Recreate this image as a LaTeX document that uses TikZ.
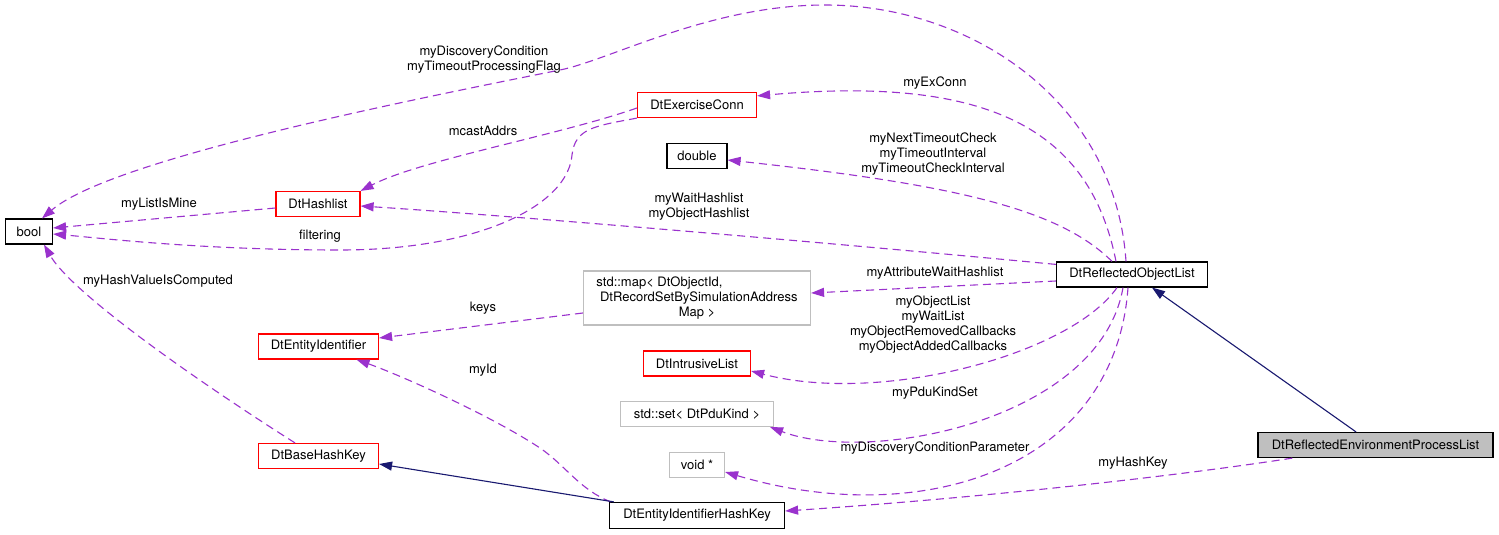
\documentclass[tikz,border=0pt]{standalone}
\usepackage{fontspec}
\setmainfont{TeX Gyre Heros}
\usetikzlibrary{arrows.meta,calc}
\definecolor{edgepurple}{HTML}{9A32CD}
\definecolor{navyblue}{HTML}{191970}
\definecolor{boxgray}{HTML}{BFBFBF}
\begin{document}
\begin{tikzpicture}[x=1pt,y=-1pt,
  lbl/.style={font=\fontsize{13}{15}\selectfont, inner sep=0pt, align=center},
  cls/.style={draw=black, line width=1.2pt, fill=white, minimum height=25pt, inner sep=0pt, font=\fontsize{13}{15}\selectfont},
  redcls/.style={cls, draw=red},
  graycls/.style={cls, draw=boxgray},
  member/.style={draw=edgepurple, line width=1.1pt, dash pattern=on 8pt off 5pt, -{Triangle[length=13pt,width=9pt]}},
  inherit/.style={draw=navyblue, line width=1.1pt, -{Triangle[length=13pt,width=9pt]}}]
\fill[white] (0,0) rectangle (1499,535);
\useasboundingbox (0,0) rectangle (1499,535);

% nodes
\node[cls, minimum width=47pt] (nBool) at (29,231.5) {bool};
\node[redcls, minimum width=84pt] (nHash) at (318,204) {DtHashlist};
\node[redcls, minimum width=119pt] (nExConn) at (697,105) {DtExerciseConn};
\node[cls, minimum width=60pt] (nDouble) at (697,156) {double};
\node[graycls, minimum width=227pt, minimum height=54pt] (nMap) at (697,298)
  {\begin{tabular}{@{}l@{}}std::map< DtObjectId,\\\ DtRecordSetBySimulationAddress\\\multicolumn{1}{@{}c@{}}{Map >}\end{tabular}};
\node[redcls, minimum width=120pt] (nEntId) at (318.5,346.5) {DtEntityIdentifier};
\node[redcls, minimum width=107pt] (nIntr) at (697,363.5) {DtIntrusiveList};
\node[graycls, minimum width=153pt] (nSet) at (697,414) {std::set< DtPduKind >};
\node[graycls, minimum width=55pt] (nVoid) at (697,465) {void *};
\node[redcls, minimum width=120pt] (nBase) at (318.5,456) {DtBaseHashKey};
\node[cls, minimum width=175pt, minimum height=26pt] (nEIHK) at (697,515.5) {DtEntityIdentifierHashKey};
\node[cls, minimum width=151pt] (nROL) at (1132,274.5) {DtReflectedObjectList};
\node[cls, fill=boxgray, minimum width=235pt] (nREPL) at (1375.5,445) {DtReflectedEnvironmentProcessList};

% member edges
\draw[member] ($(nROL.north)+(-6,0)$) .. controls (1115,100) and (970,5) .. (825,5)
  .. controls (710,5) and (610,60) .. (560,70)
  .. controls (400,102) and (110,160) .. ($(nBool.north)+(13,0)$);
\draw[member] ($(nExConn.west)+(0,3)$) .. controls (560,135) and (420,160) .. (nHash.north east);
\draw[member] (nExConn.south west) .. controls (595,126) and (575,128) .. (572,155)
  .. controls (568,205) and (480,250) .. (340,250)
  .. controls (200,250) and (100,238) .. ($(nBool.east)+(0,2.5)$);
\draw[member] ($(nHash.west)+(0,4)$) -- ($(nBool.east)+(0,-3.5)$);
\draw[member] ($(nROL.north west)+(0,3)$) .. controls (800,240) and (500,215) .. ($(nHash.east)+(0,2)$);
\draw[member] ($(nROL.north)+(-16,0)$) .. controls (1090,130) and (990,75) .. ($(nExConn.north east)+(0,4)$);
\draw[member] ($(nROL.north)+(-20,0)$) .. controls (1060,210) and (960,185) .. ($(nDouble.east)+(0,4)$);
\draw[member] ($(nROL.west)+(0,6.5)$) -- ($(nMap.east)+(0,-5)$);
\draw[member] ($(nROL.south)+(-15,0)$) .. controls (1070,355) and (880,405) .. ($(nIntr.east)+(0,7.5)$);
\draw[member] ($(nROL.south)+(-9,0)$) .. controls (1100,420) and (870,465) .. ($(nSet.south east)+(-4,0)$);
\draw[member] ($(nROL.south)+(-4,0)$) .. controls (1115,470) and (920,530) .. ($(nVoid.east)+(0,7)$);
\draw[member] ($(nREPL.south west)+(35,0)$) .. controls (1150,480) and (950,500) .. ($(nEIHK.east)+(0,-4.5)$);
\draw[member] ($(nEIHK.north west)+(2,0)$) .. controls (580,490) and (565,465) .. (540,448)
  .. controls (490,415) and (400,375) .. ($(nEntId.south)+(38,0)$);
\draw[member] ($(nMap.west)+(0,15)$) -- ($(nEntId.east)+(0,-8.5)$);
\draw[member] ($(nBase.north)+(-23.5,0)$) .. controls (180,370) and (70,290) .. ($(nBool.south)+(15,0)$);

% inheritance edges
\draw[inherit] ($(nREPL.north)+(-19.5,0)$) -- ($(nROL.south)+(20,0)$);
\draw[inherit] ($(nEIHK.north west)+(5,0)$) -- ($(nBase.east)+(0,8)$);

% labels
\node[lbl] (l1) at (484,60) {myDiscoveryCondition\\myTimeoutProcessingFlag};
\node[lbl] (l2) at (483,131) {mcastAddrs};
\node[lbl] (l3) at (159,204) {myListIsMine};
\node[lbl] (l4) at (320,236) {filtering};
\node[lbl] (l5) at (699,207) {myWaitHashlist\\myObjectHashlist};
\node[lbl] (l6) at (935,83) {myExConn};
\node[lbl] (l7) at (933,154) {myNextTimeoutCheck\\myTimeoutInterval\\myTimeoutCheckInterval};
\node[lbl] (l8) at (935,273) {myAttributeWaitHashlist};
\node[lbl] (l9) at (933,325) {myObjectList\\myWaitList\\myObjectRemovedCallbacks\\myObjectAddedCallbacks};
\node[lbl] (l10) at (935,393) {myPduKindSet};
\node[lbl] (l11) at (935,448) {myDiscoveryConditionParameter};
\node[lbl] (l12) at (1133,463) {myHashKey};
\node[lbl] (l13) at (483,370) {myId};
\node[lbl] (l14) at (483,308) {keys};
\node[lbl] (l15) at (158,281) {myHashValueIsComputed};
\end{tikzpicture}
\end{document}
